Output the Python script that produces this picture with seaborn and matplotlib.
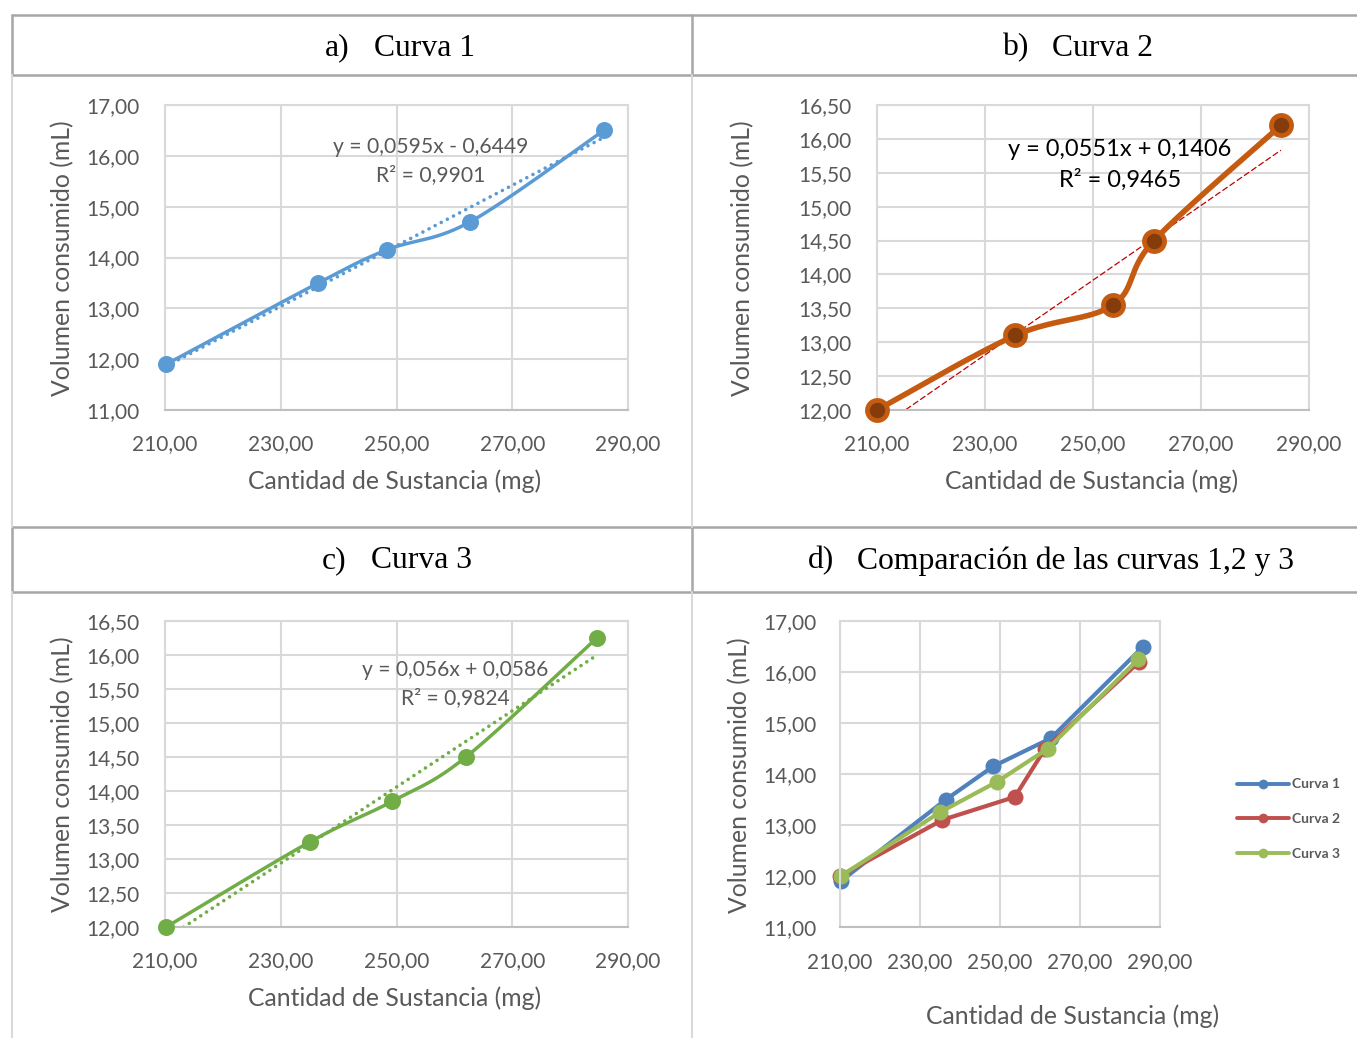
import numpy as np
import pandas as pd
import matplotlib
matplotlib.use("Agg")
import matplotlib.pyplot as plt
from matplotlib.lines import Line2D
from matplotlib.ticker import FuncFormatter, MultipleLocator
import seaborn as sns

# ---- data -------------------------------------------------------------
x_c1 = [210.2, 236.5, 248.3, 262.7, 285.8]
y_c1 = [11.90, 13.50, 14.15, 14.70, 16.50]
x_c2 = [210.0, 235.6, 253.7, 261.3, 284.8]
y_c2 = [12.00, 13.10, 13.55, 14.50, 16.20]
x_c3 = [210.2, 235.0, 249.3, 262.0, 284.6]
y_c3 = [12.00, 13.25, 13.85, 14.50, 16.25]

fit_c1 = (0.0595, -0.6449, 0.9901)
fit_c2 = (0.0551, 0.1406, 0.9465)
fit_c3 = (0.056, 0.0586, 0.9824)

x_ticks = [210, 230, 250, 270, 290]
series_names = ["Curva 1", "Curva 2", "Curva 3"]
panel_titles = ["a)", "Curva 1", "b)", "Curva 2", "c)", "Curva 3",
                "d)", "Comparación de las curvas 1,2 y 3"]

# ---- setup ------------------------------------------------------------
sns.set_theme(style="white")
plt.rcParams["font.family"] = ["Lato", "DejaVu Sans"]

W, H = 1357, 1038
fig = plt.figure(figsize=(W / 100, H / 100), dpi=100)
fig.patch.set_facecolor("white")

TXT = "#595959"
GRID = "#d9d9d9"
SANS = ["Lato", "DejaVu Sans"]
SERIF = ["Liberation Serif", "DejaVu Serif"]


def fx(x):
    return x / W


def fy(y):
    return 1 - y / H


def comma(v, _pos=None):
    return f"{v:.2f}".replace(".", ",")


def add_panel(x0, y0, x1, y1):
    return fig.add_axes([fx(x0), fy(y1), (x1 - x0) / W, (y1 - y0) / H])


def style_axes(ax, xlim, ylim, ystep, ypad, xpad):
    ax.set_xlim(*xlim)
    ax.set_ylim(*ylim)
    ax.set_xticks(x_ticks)
    ax.yaxis.set_major_locator(MultipleLocator(ystep))
    ax.xaxis.set_major_formatter(FuncFormatter(comma))
    ax.yaxis.set_major_formatter(FuncFormatter(comma))
    ax.grid(True, color=GRID, linewidth=1.5)
    ax.set_axisbelow(True)
    for s in ax.spines.values():
        s.set_color(GRID)
        s.set_linewidth(1.5)
    ax.spines["bottom"].set_color("#bfbfbf")
    ax.tick_params(axis="both", length=0, labelsize=15, labelcolor=TXT)
    ax.tick_params(axis="y", pad=ypad)
    ax.tick_params(axis="x", pad=xpad)
    ax.set_xlabel("")
    ax.set_ylabel("")


def smooth_path(xs, ys, ax_w, ax_h, xr, yr, n=40):
    # Bezier smoothing through the points (computed in screen-like space)
    px = (np.asarray(xs) - xr[0]) / (xr[1] - xr[0]) * ax_w
    py = (np.asarray(ys) - yr[0]) / (yr[1] - yr[0]) * ax_h
    P = np.column_stack([px, py])
    out = []
    for i in range(len(P) - 1):
        p0 = P[i - 1] if i > 0 else P[i]
        p1 = P[i]
        p2 = P[i + 1]
        p3 = P[i + 2] if i + 2 < len(P) else P[i + 1]
        c1 = p1 + (p2 - p0) / 6.0
        c2 = p2 - (p3 - p1) / 6.0
        t = np.linspace(0, 1, n)[:, None]
        seg = ((1 - t) ** 3) * p1 + 3 * ((1 - t) ** 2) * t * c1 \
            + 3 * (1 - t) * t ** 2 * c2 + t ** 3 * p2
        out.append(seg if i == 0 else seg[1:])
    S = np.vstack(out)
    sx = S[:, 0] / ax_w * (xr[1] - xr[0]) + xr[0]
    sy = S[:, 1] / ax_h * (yr[1] - yr[0]) + yr[0]
    return pd.DataFrame({"x": sx, "y": sy})


def single_panel(box, xs, ys, fit, ylim, ystep, color, lw, ms, trend_kw,
                 eq_pos, eq_kw, marker_kw, ypad, xpad):
    x0, y0, x1, y1 = box
    ax = add_panel(*box)
    style_axes(ax, (210, 290), ylim, ystep, ypad, xpad)
    curve = smooth_path(xs, ys, x1 - x0, y1 - y0, (210, 290), ylim)
    tx = np.array([xs[0], xs[-1]])
    trend = pd.DataFrame({"x": tx, "y": fit[0] * tx + fit[1]})
    sns.lineplot(data=trend, x="x", y="y", ax=ax, sort=False, **trend_kw)
    sns.lineplot(data=curve, x="x", y="y", ax=ax, sort=False, color=color,
                 linewidth=lw, solid_capstyle="round")
    pts = pd.DataFrame({"x": xs, "y": ys})
    sns.scatterplot(data=pts, x="x", y="y", ax=ax, s=ms, zorder=5,
                    clip_on=False, **marker_kw)
    ax.set_xlabel("")
    ax.set_ylabel("")
    sign = "-" if fit[1] < 0 else "+"
    slope = f"{fit[0]:.4f}".rstrip("0").replace(".", ",")
    inter = f"{abs(fit[1]):.4f}".replace(".", ",")
    r2 = f"{fit[2]:.4f}".replace(".", ",")
    fig.text(fx(eq_pos[0]), fy(eq_pos[1]),
             f"y = {slope}x {sign} {inter}\nR² = {r2}",
             ha="center", va="center", linespacing=1.45, family=SANS, **eq_kw)
    return ax


dotted = (0, (0.01, 1.9))

# ---- panel a ----------------------------------------------------------
blue = "#5b9bd5"
single_panel((165, 105, 628, 410), x_c1, y_c1, fit_c1, (11, 17), 1, blue,
             2.5, 150,
             dict(color=blue, linewidth=2.6, linestyle=dotted,
                  dash_capstyle="round"),
             (431, 161), dict(fontsize=15.2, color=TXT),
             dict(color=blue, edgecolor=blue, linewidth=0), 18, 17)

# ---- panel b ----------------------------------------------------------
brown = "#c55a11"
single_panel((877, 105, 1309, 410), x_c2, y_c2, fit_c2, (12, 16.5), 0.5,
             brown, 4.0, 210,
             dict(color="#c00000", linewidth=0.9, linestyle=(0, (5, 2))),
             (1120, 165), dict(fontsize=17, color="black"),
             dict(color="#843c0c", edgecolor=brown, linewidth=3.4), 18, 17)

# ---- panel c ----------------------------------------------------------
green = "#70ad47"
single_panel((165, 621, 628, 927), x_c3, y_c3, fit_c3, (12, 16.5), 0.5,
             green, 2.5, 150,
             dict(color=green, linewidth=2.6, linestyle=dotted,
                  dash_capstyle="round"),
             (455, 684), dict(fontsize=15.1, color=TXT),
             dict(color=green, edgecolor=green, linewidth=0), 18, 17)

# ---- panel d ----------------------------------------------------------
axd = add_panel(840, 621, 1160, 927)
style_axes(axd, (210, 290), (11, 17), 1, 17, 18)
cmp = pd.concat([
    pd.DataFrame({"x": x_c1, "y": y_c1, "serie": series_names[0]}),
    pd.DataFrame({"x": x_c2, "y": y_c2, "serie": series_names[1]}),
    pd.DataFrame({"x": x_c3, "y": y_c3, "serie": series_names[2]}),
])
palette_d = {"Curva 1": "#4f81bd", "Curva 2": "#c0504d", "Curva 3": "#9bbb59"}
sns.lineplot(data=cmp, x="x", y="y", hue="serie", palette=palette_d,
             ax=axd, sort=False, marker="o", markersize=11.5,
             markeredgewidth=0, linewidth=3.0, legend=False, clip_on=False)
axd.set_xlabel("")
axd.set_ylabel("")
handles = [Line2D([], [], color=palette_d[n], linewidth=2.8, marker="o",
                  markersize=7, markeredgewidth=0) for n in series_names]
leg = fig.legend(handles, series_names, loc="center left",
                 bbox_to_anchor=(fx(1224), fy(819)), frameon=False,
                 handlelength=3.8, handletextpad=0.2, labelspacing=1.62,
                 prop=dict(family=SANS, size=10, weight="bold"))
for t in leg.get_texts():
    t.set_color(TXT)

# ---- axis titles ------------------------------------------------------
lab_kw = dict(color=TXT, fontsize=17.8, family=SANS, ha="center",
              va="center")
ylab = "Volumen consumido (mL)"
xlab = "Cantidad de Sustancia (mg)"
fig.text(fx(63), fy(258), ylab, rotation=90, **lab_kw)
fig.text(fx(395), fy(481), xlab, **lab_kw)
fig.text(fx(743), fy(258), ylab, rotation=90, **lab_kw)
fig.text(fx(1092), fy(481), xlab, **lab_kw)
fig.text(fx(63), fy(774), ylab, rotation=90, **lab_kw)
fig.text(fx(395), fy(998), xlab, **lab_kw)
fig.text(fx(740), fy(775), ylab, rotation=90, **lab_kw)
fig.text(fx(1073), fy(1016), xlab, **lab_kw)

# ---- table frame and cell titles -------------------------------------
DARK = "#a6a6a6"


def hline(y, x0, x1, c, lw):
    fig.add_artist(Line2D([fx(x0), fx(x1)], [fy(y), fy(y)], color=c,
                          linewidth=lw))


def vline(x, y0, y1, c, lw):
    fig.add_artist(Line2D([fx(x), fx(x)], [fy(y0), fy(y1)], color=c,
                          linewidth=lw))


for y in (15, 75, 527, 592):
    hline(y, 12, W, DARK, 1.8)
for x in (12, 692):
    vline(x, 15, 75, DARK, 1.8)
    vline(x, 527, 592, DARK, 1.8)
    vline(x, 75, 527, GRID, 1.5)
    vline(x, 592, H, GRID, 1.5)

title_kw = dict(fontsize=22.8, family=SERIF, color="black", va="center",
                ha="left")
title_pos = [(325, 48), (1003, 48), (322, 561), (808, 561)]
for i, (tx_, ty_) in enumerate(title_pos):
    lbl, txt = panel_titles[2 * i], panel_titles[2 * i + 1]
    fig.text(fx(tx_), fy(ty_), lbl, **title_kw)
    fig.text(fx(tx_ + 49), fy(ty_), txt, **title_kw)

fig.savefig("out.png", dpi=100, facecolor="white")
